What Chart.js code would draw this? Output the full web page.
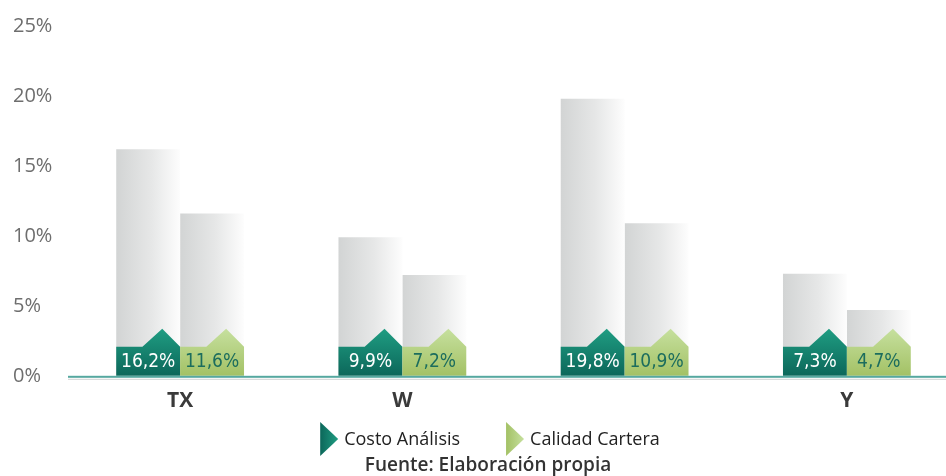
<!DOCTYPE html>
<html>
<head>
<meta charset="utf-8">
<script src="https://cdn.jsdelivr.net/npm/chart.js@4.4.0/dist/chart.umd.min.js"></script>
<style>
html, body { margin: 0; padding: 0; background: #fff; overflow: hidden; }
#wrap { width: 960px; height: 476px; }
</style>
</head>
<body>
<div id="wrap"><canvas id="chartCosto" width="960" height="476"></canvas></div>
<script>
const categories = ['TX', 'W', '', 'Y'];
const costoAnalisis = [16.2, 9.9, 19.8, 7.3];
const calidadCartera = [11.6, 7.2, 10.9, 4.7];
const seriesNames = ['Costo Análisis', 'Calidad Cartera'];
const yTicks = [0, 5, 10, 15, 20, 25];
const sourceText = 'Fuente: Elaboración propia';

const catPct = 0.575;
const badgeFont = '19px "Liberation Sans Narrow", "DejaVu Sans Condensed", "Open Sans", sans-serif';

function pct(v) {
    return v.toFixed(1).replace('.', ',') + '%';
}

// gris -> blanco, de izquierda a derecha en cada barra
function grayFill(c) {
    const chart = c.chart;
    const x = chart.scales.x;
    if (!x || c.type !== 'data') return '#dddddd';
    const w = x.width / categories.length * catPct / 2;
    const mid = x.getPixelForValue(c.dataIndex);
    if (!isFinite(w) || !isFinite(mid)) return '#dddddd';
    const left = c.datasetIndex === 0 ? mid - w : mid;
    const g = chart.ctx.createLinearGradient(left, 0, left + w, 0);
    g.addColorStop(0, '#d2d4d4');
    g.addColorStop(0.55, '#e6e7e7');
    g.addColorStop(1, '#fdfdfd');
    return g;
}

const badgeColors = [
    { top: '#1f9d82', bottom: '#0c675a', text: '#ffffff' },
    { top: '#c6e09e', bottom: '#a3c165', text: '#1c6d5d' }
];

const decorPlugin = {
    id: 'decor',
    afterDatasetsDraw(chart) {
        const ctx = chart.ctx;
        const yZero = chart.scales.y.getPixelForValue(0);
        chart.data.datasets.forEach((ds, di) => {
            const meta = chart.getDatasetMeta(di);
            const col = badgeColors[di];
            meta.data.forEach((bar, i) => {
                const w = bar.width;
                const left = bar.x - w / 2;
                const right = bar.x + w / 2;
                const top = yZero - 29;
                ctx.save();
                const g = ctx.createLinearGradient(0, top - 18, 0, yZero);
                g.addColorStop(0, col.top);
                g.addColorStop(1, col.bottom);
                ctx.fillStyle = g;
                ctx.beginPath();
                ctx.moveTo(left, yZero);
                ctx.lineTo(left, top);
                ctx.lineTo(left + 0.41 * w, top);
                ctx.lineTo(left + 0.72 * w, top - 18);
                ctx.lineTo(right, top);
                ctx.lineTo(right, yZero);
                ctx.closePath();
                ctx.fill();
                ctx.fillStyle = col.text;
                ctx.font = badgeFont;
                ctx.textAlign = 'center';
                ctx.textBaseline = 'middle';
                ctx.fillText(pct(ds.data[i]), bar.x, top + 15);
                ctx.restore();
            });
        });
        // eje horizontal
        ctx.save();
        ctx.fillStyle = '#56a8a0';
        ctx.fillRect(chart.chartArea.left - 1, yZero, chart.width, 2);
        ctx.fillStyle = '#cfd3d3';
        ctx.fillRect(chart.chartArea.left - 1, yZero + 3, chart.width, 1);
        ctx.restore();
    },
    afterDraw(chart) {
        const ctx = chart.ctx;
        ctx.save();
        ctx.font = '18px "Open Sans", sans-serif';
        ctx.textBaseline = 'middle';
        ctx.textAlign = 'left';
        const triW = 18, gap = 6, itemGap = 46, cy = 439;
        const widths = seriesNames.map(n => ctx.measureText(n).width);
        const total = widths[0] + widths[1] + 2 * (triW + gap) + itemGap;
        let x = 490 - total / 2;
        seriesNames.forEach((name, i) => {
            const g = ctx.createLinearGradient(x, 0, x + triW, 0);
            g.addColorStop(0, badgeColors[i].bottom);
            g.addColorStop(1, badgeColors[i].top);
            ctx.fillStyle = g;
            ctx.beginPath();
            ctx.moveTo(x, cy - 17);
            ctx.lineTo(x + triW, cy);
            ctx.lineTo(x, cy + 17);
            ctx.closePath();
            ctx.fill();
            ctx.fillStyle = '#222222';
            ctx.fillText(name, x + triW + gap, cy + 1);
            x += triW + gap + widths[i] + itemGap;
        });
        ctx.font = '600 19px "Open Sans", sans-serif';
        ctx.fillStyle = '#333333';
        ctx.textAlign = 'center';
        ctx.fillText(sourceText, 488, 466);
        ctx.restore();
    }
};

const chart = new Chart(document.getElementById('chartCosto'), {
    type: 'bar',
    data: {
        labels: categories,
        datasets: [
            { label: seriesNames[0], data: costoAnalisis, backgroundColor: grayFill },
            { label: seriesNames[1], data: calidadCartera, backgroundColor: grayFill }
        ]
    },
    options: {
        responsive: false,
        animation: false,
        layout: { padding: { left: 13, top: 26, right: 2, bottom: 49 } },
        datasets: { bar: { barPercentage: 1, categoryPercentage: catPct, borderWidth: 0 } },
        plugins: { legend: { display: false }, tooltip: { enabled: false } },
        scales: {
            x: {
                grid: { display: false, drawTicks: false },
                border: { display: false },
                ticks: {
                    padding: 13,
                    color: '#3a3a3a',
                    font: { family: '"Open Sans", sans-serif', size: 21, weight: 'bold' }
                }
            },
            y: {
                min: 0,
                max: 25,
                grid: { display: false, drawTicks: false },
                border: { display: false },
                afterBuildTicks: s => { s.ticks = yTicks.map(v => ({ value: v })); },
                afterFit: s => { s.width = 56; },
                ticks: {
                    crossAlign: 'far',
                    color: '#6e6e6e',
                    font: { family: '"Open Sans", sans-serif', size: 20 },
                    callback: v => v + '%'
                }
            }
        }
    },
    plugins: [decorPlugin]
});
</script>
</body>
</html>
